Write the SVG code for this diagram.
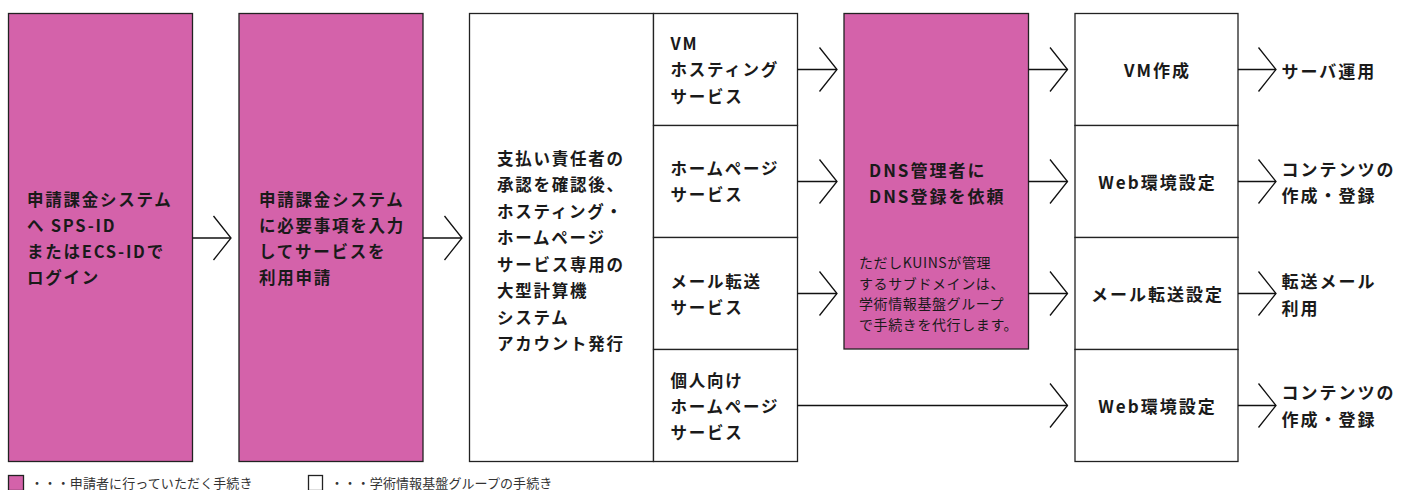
<svg xmlns="http://www.w3.org/2000/svg" width="1402" height="490" viewBox="0 0 1402 490">
<style>
.bx{stroke:#222;stroke-width:1.3;}
.pk{fill:#D462AA;}
.wt{fill:#ffffff;}
.ln{stroke:#111;stroke-width:1.3;fill:none;}
text{font-family:"Noto Sans CJK JP","Noto Sans",sans-serif;fill:#1a1a1a;}
.t1{font-size:16.5px;font-weight:700;letter-spacing:1.75px;}
.t2{font-size:17px;font-weight:700;letter-spacing:2px;}
.t3{font-size:14px;font-weight:400;letter-spacing:0.6px;}
.lg{font-size:13px;font-weight:400;letter-spacing:0.1px;fill:#333;}
.mid{text-anchor:middle;}
</style>
<defs>
<polyline id="chev" points="-17.5,-22 0,0 -17.5,22" class="ln"/>
</defs>
<rect width="1402" height="490" fill="#ffffff"/>

<g id="node-login">
<rect class="bx pk" x="8.5" y="13.5" width="184" height="448"/>
<text class="t1" x="27"><tspan x="27" y="205.5">申請課金システム</tspan><tspan x="27" y="232">へ SPS-ID</tspan><tspan x="27" y="257.5">またはECS-IDで</tspan><tspan x="27" y="283.5">ログイン</tspan></text>
</g>

<g id="node-apply">
<rect class="bx pk" x="239" y="13.5" width="184" height="448"/>
<text class="t1" x="259"><tspan x="259" y="205.5">申請課金システム</tspan><tspan x="259" y="232">に必要事項を入力</tspan><tspan x="259" y="257.5">してサービスを</tspan><tspan x="259" y="283.5">利用申請</tspan></text>
</g>

<g id="node-account">
<rect class="bx wt" x="469.5" y="13.5" width="184" height="448"/>
<text class="t1" x="497"><tspan x="497" y="164.5">支払い責任者の</tspan><tspan x="497" y="191">承認を確認後、</tspan><tspan x="497" y="217.5">ホスティング・</tspan><tspan x="497" y="244">ホームページ</tspan><tspan x="497" y="270.5">サービス専用の</tspan><tspan x="497" y="297">大型計算機</tspan><tspan x="497" y="323.5">システム</tspan><tspan x="497" y="350">アカウント発行</tspan></text>
</g>

<g id="node-svc-vm">
<rect class="bx wt" x="653.5" y="13.5" width="144" height="112"/>
<text class="t1"><tspan x="670.5" y="49.5">VM</tspan><tspan x="670.5" y="76">ホスティング</tspan><tspan x="670.5" y="102.5">サービス</tspan></text>
</g>
<g id="node-svc-hp">
<rect class="bx wt" x="653.5" y="125.5" width="144" height="112"/>
<text class="t1"><tspan x="670.5" y="175">ホームページ</tspan><tspan x="670.5" y="201">サービス</tspan></text>
</g>
<g id="node-svc-mail">
<rect class="bx wt" x="653.5" y="237.5" width="144" height="112"/>
<text class="t1"><tspan x="670.5" y="288">メール転送</tspan><tspan x="670.5" y="313.5">サービス</tspan></text>
</g>
<g id="node-svc-personal">
<rect class="bx wt" x="653.5" y="349.5" width="144" height="112"/>
<text class="t1"><tspan x="670.5" y="386.5">個人向け</tspan><tspan x="670.5" y="412.5">ホームページ</tspan><tspan x="670.5" y="439">サービス</tspan></text>
</g>

<g id="node-dns">
<rect class="bx pk" x="844" y="13.5" width="184.5" height="335.5"/>
<text class="t2"><tspan x="869" y="176.5">DNS管理者に</tspan><tspan x="869" y="202.5">DNS登録を依頼</tspan></text>
<text class="t3"><tspan x="859" y="268">ただしKUINSが管理</tspan><tspan x="859" y="288.6">するサブドメインは、</tspan><tspan x="859" y="309.3">学術情報基盤グループ</tspan><tspan x="859" y="330">で手続きを代行します。</tspan></text>
</g>

<g id="node-vm">
<rect class="bx wt" x="1075" y="13.5" width="163" height="112"/>
<text class="t2 mid" x="1157.5" y="76.8">VM作成</text>
</g>
<g id="node-web1">
<rect class="bx wt" x="1075" y="125.5" width="163" height="112"/>
<text class="t2 mid" x="1157.5" y="188.8">Web環境設定</text>
</g>
<g id="node-mailset">
<rect class="bx wt" x="1075" y="237.5" width="163" height="112"/>
<text class="t2 mid" x="1157.5" y="300.8">メール転送設定</text>
</g>
<g id="node-web2">
<rect class="bx wt" x="1075" y="349.5" width="163" height="112"/>
<text class="t2 mid" x="1157.5" y="412.8">Web環境設定</text>
</g>

<g id="node-out-server"><text class="t2" x="1281.5" y="78">サーバ運用</text></g>
<g id="node-out-contents1"><text class="t2"><tspan x="1281.5" y="175.5">コンテンツの</tspan><tspan x="1281.5" y="202">作成・登録</tspan></text></g>
<g id="node-out-mail"><text class="t2"><tspan x="1281.5" y="287.5">転送メール</tspan><tspan x="1281.5" y="314.5">利用</tspan></text></g>
<g id="node-out-contents2"><text class="t2"><tspan x="1281.5" y="399">コンテンツの</tspan><tspan x="1281.5" y="425.5">作成・登録</tspan></text></g>

<g id="connectors">
<line class="ln" x1="192.5" y1="238" x2="231" y2="238"/><use href="#chev" x="231" y="238"/>
<line class="ln" x1="423" y1="238" x2="462" y2="238"/><use href="#chev" x="462" y="238"/>
<line class="ln" x1="797.5" y1="69.5" x2="837" y2="69.5"/><use href="#chev" x="837" y="69.5"/>
<line class="ln" x1="797.5" y1="181.5" x2="837" y2="181.5"/><use href="#chev" x="837" y="181.5"/>
<line class="ln" x1="797.5" y1="293.5" x2="837" y2="293.5"/><use href="#chev" x="837" y="293.5"/>
<line class="ln" x1="797.5" y1="405.5" x2="1067.5" y2="405.5"/><use href="#chev" x="1067.5" y="405.5"/>
<line class="ln" x1="1028.5" y1="69.5" x2="1067.5" y2="69.5"/><use href="#chev" x="1067.5" y="69.5"/>
<line class="ln" x1="1028.5" y1="181.5" x2="1067.5" y2="181.5"/><use href="#chev" x="1067.5" y="181.5"/>
<line class="ln" x1="1028.5" y1="293.5" x2="1067.5" y2="293.5"/><use href="#chev" x="1067.5" y="293.5"/>
<line class="ln" x1="1238" y1="69.5" x2="1276" y2="69.5"/><use href="#chev" x="1276" y="69.5"/>
<line class="ln" x1="1238" y1="181.5" x2="1276" y2="181.5"/><use href="#chev" x="1276" y="181.5"/>
<line class="ln" x1="1238" y1="293.5" x2="1276" y2="293.5"/><use href="#chev" x="1276" y="293.5"/>
<line class="ln" x1="1238" y1="405.5" x2="1276" y2="405.5"/><use href="#chev" x="1276" y="405.5"/>
</g>

<g id="legend">
<rect class="bx pk" x="8.5" y="475.5" width="15" height="15"/>
<text class="lg" x="30.5" y="487.5">・・・申請者に行っていただく手続き</text>
<rect class="bx wt" x="308.5" y="475.5" width="14" height="15"/>
<text class="lg" x="330.5" y="487.5">・・・学術情報基盤グループの手続き</text>
</g>
</svg>
